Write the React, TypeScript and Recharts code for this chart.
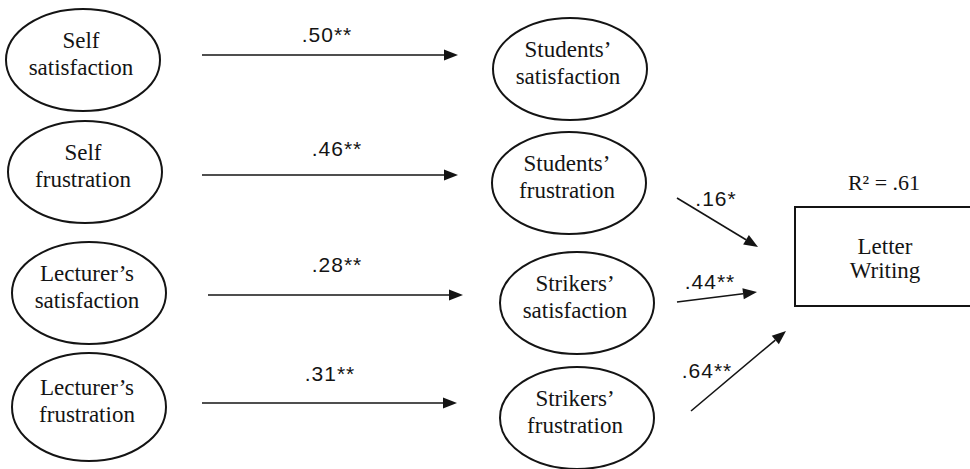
import { ScatterChart, Scatter, XAxis, YAxis, ReferenceLine } from 'recharts'

// diagram units: one unit = one pixel of the 970x469 figure, y runs downward
const nodeNames = [
  ['Self', 'satisfaction'],
  ['Self', 'frustration'],
  ['Lecturer\u2019s', 'satisfaction'],
  ['Lecturer\u2019s', 'frustration'],
  ['Students\u2019', 'satisfaction'],
  ['Students\u2019', 'frustration'],
  ['Strikers\u2019', 'satisfaction'],
  ['Strikers\u2019', 'frustration'],
]
const nodeX = [83, 85, 89, 89, 570, 569, 577, 577]
const nodeY = [60, 172, 293, 407, 69, 183, 303, 418]

const outcomeName = ['Letter', 'Writing']
// top-left corner of the outcome box; it runs off the right edge of the figure
const outcomeCorner = { x: 795, y: 207 }
const outcomeAt = { x: 885, y: 256 }
const rSquared = 'R\u00b2 = .61'
const rSquaredAt = { x: 884, y: 183 }

const pathCoefs = ['.50**', '.46**', '.28**', '.31**', '.16*', '.44**', '.64**']
const pathFrom = [
  [202, 55], [202, 175], [208, 295], [202, 403],
  [677, 198], [677, 302], [691, 411],
]
const pathTo = [
  [458, 55], [458, 175], [463, 295], [457, 403],
  [758, 247], [757, 292], [786, 331],
]
const coefX = [327, 337, 337, 330, 716, 710, 707]
const coefY = [35, 149, 265, 374, 199, 282, 371]

const INK = '#141414'
const SERIF = 'Liberation Serif, Times New Roman, DejaVu Serif, serif'
const SANS = 'Liberation Sans, Arial, sans-serif'

const serifStyle = { fontFamily: SERIF, fontSize: 23 }
const sansStyle = { fontFamily: SANS, fontSize: 21, letterSpacing: 1 }

const nodes = nodeNames.map((lines, i) => ({ x: nodeX[i], y: nodeY[i], lines, idx: i }))
const coefs = pathCoefs.map((t, i) => ({ x: coefX[i], y: coefY[i], t }))
const outcome = [{ ...outcomeAt, lines: outcomeName }]

function EllipseNode(props: any) {
  const { cx, cy, payload } = props
  const ry = payload.idx === 3 ? 54 : 51
  return (
    <g>
      <ellipse cx={cx} cy={cy} rx={77} ry={ry} fill="#fff" stroke={INK} strokeWidth={2} />
      <text x={cx - 2} y={cy - 12} textAnchor="middle" style={serifStyle} fill={INK}>
        {payload.lines[0]}
      </text>
      <text x={cx - 2} y={cy + 15} textAnchor="middle" style={serifStyle} fill={INK}>
        {payload.lines[1]}
      </text>
    </g>
  )
}

function OpenBox(props: any) {
  const { cx, cy } = props
  const w = 400
  const h = 99
  return (
    <path d={`M${cx + w},${cy} H${cx} V${cy + h} H${cx + w}`} fill="none" stroke={INK} strokeWidth={2} />
  )
}

function BoxText(props: any) {
  const { cx, cy, payload } = props
  return (
    <g>
      <text x={cx} y={cy - 2} textAnchor="middle" style={serifStyle} fill={INK}>
        {payload.lines[0]}
      </text>
      <text x={cx} y={cy + 22} textAnchor="middle" style={serifStyle} fill={INK}>
        {payload.lines[1]}
      </text>
    </g>
  )
}

function CoefText(props: any) {
  const { cx, cy, payload } = props
  return (
    <text x={cx} y={cy + 7} textAnchor="middle" style={sansStyle} fill={INK}>
      {payload.t}
    </text>
  )
}

function R2Text(props: any) {
  const { cx, cy } = props
  return (
    <text x={cx} y={cy + 7} textAnchor="middle" style={{ fontFamily: SERIF, fontSize: 22 }} fill={INK}>
      {rSquared}
    </text>
  )
}

function Arrow(props: any) {
  const { x1, y1, x2, y2 } = props
  const dx = x2 - x1
  const dy = y2 - y1
  const len = Math.sqrt(dx * dx + dy * dy) || 1
  const ux = dx / len
  const uy = dy / len
  const head = 14
  const half = 5.5
  const bx = x2 - ux * head
  const by = y2 - uy * head
  const pts = `${x2},${y2} ${bx - uy * half},${by + ux * half} ${bx + uy * half},${by - ux * half}`
  return (
    <g>
      <line x1={x1} y1={y1} x2={bx} y2={by} stroke={INK} strokeWidth={1.6} />
      <polygon points={pts} fill={INK} />
    </g>
  )
}

export default function App() {
  return (
    <div style={{ position: 'absolute', left: 0, top: 0, width: 970, height: 469, overflow: 'hidden', background: '#fff' }}>
      <ScatterChart width={970} height={469} margin={{ top: 0, right: 0, bottom: 0, left: 0 }}>
        <XAxis type="number" dataKey="x" domain={[0, 970]} hide allowDataOverflow />
        <YAxis type="number" dataKey="y" domain={[0, 469]} reversed hide allowDataOverflow />
        {pathFrom.map((p, i) => (
          <ReferenceLine
            key={i}
            segment={[{ x: p[0], y: p[1] }, { x: pathTo[i][0], y: pathTo[i][1] }]}
            ifOverflow="visible"
            shape={Arrow}
          />
        ))}
        <Scatter data={[outcomeCorner]} shape={OpenBox} isAnimationActive={false} />
        <Scatter data={nodes} shape={EllipseNode} isAnimationActive={false} />
        <Scatter data={outcome} shape={BoxText} isAnimationActive={false} />
        <Scatter data={coefs} shape={CoefText} isAnimationActive={false} />
        <Scatter data={[rSquaredAt]} shape={R2Text} isAnimationActive={false} />
      </ScatterChart>
    </div>
  )
}
